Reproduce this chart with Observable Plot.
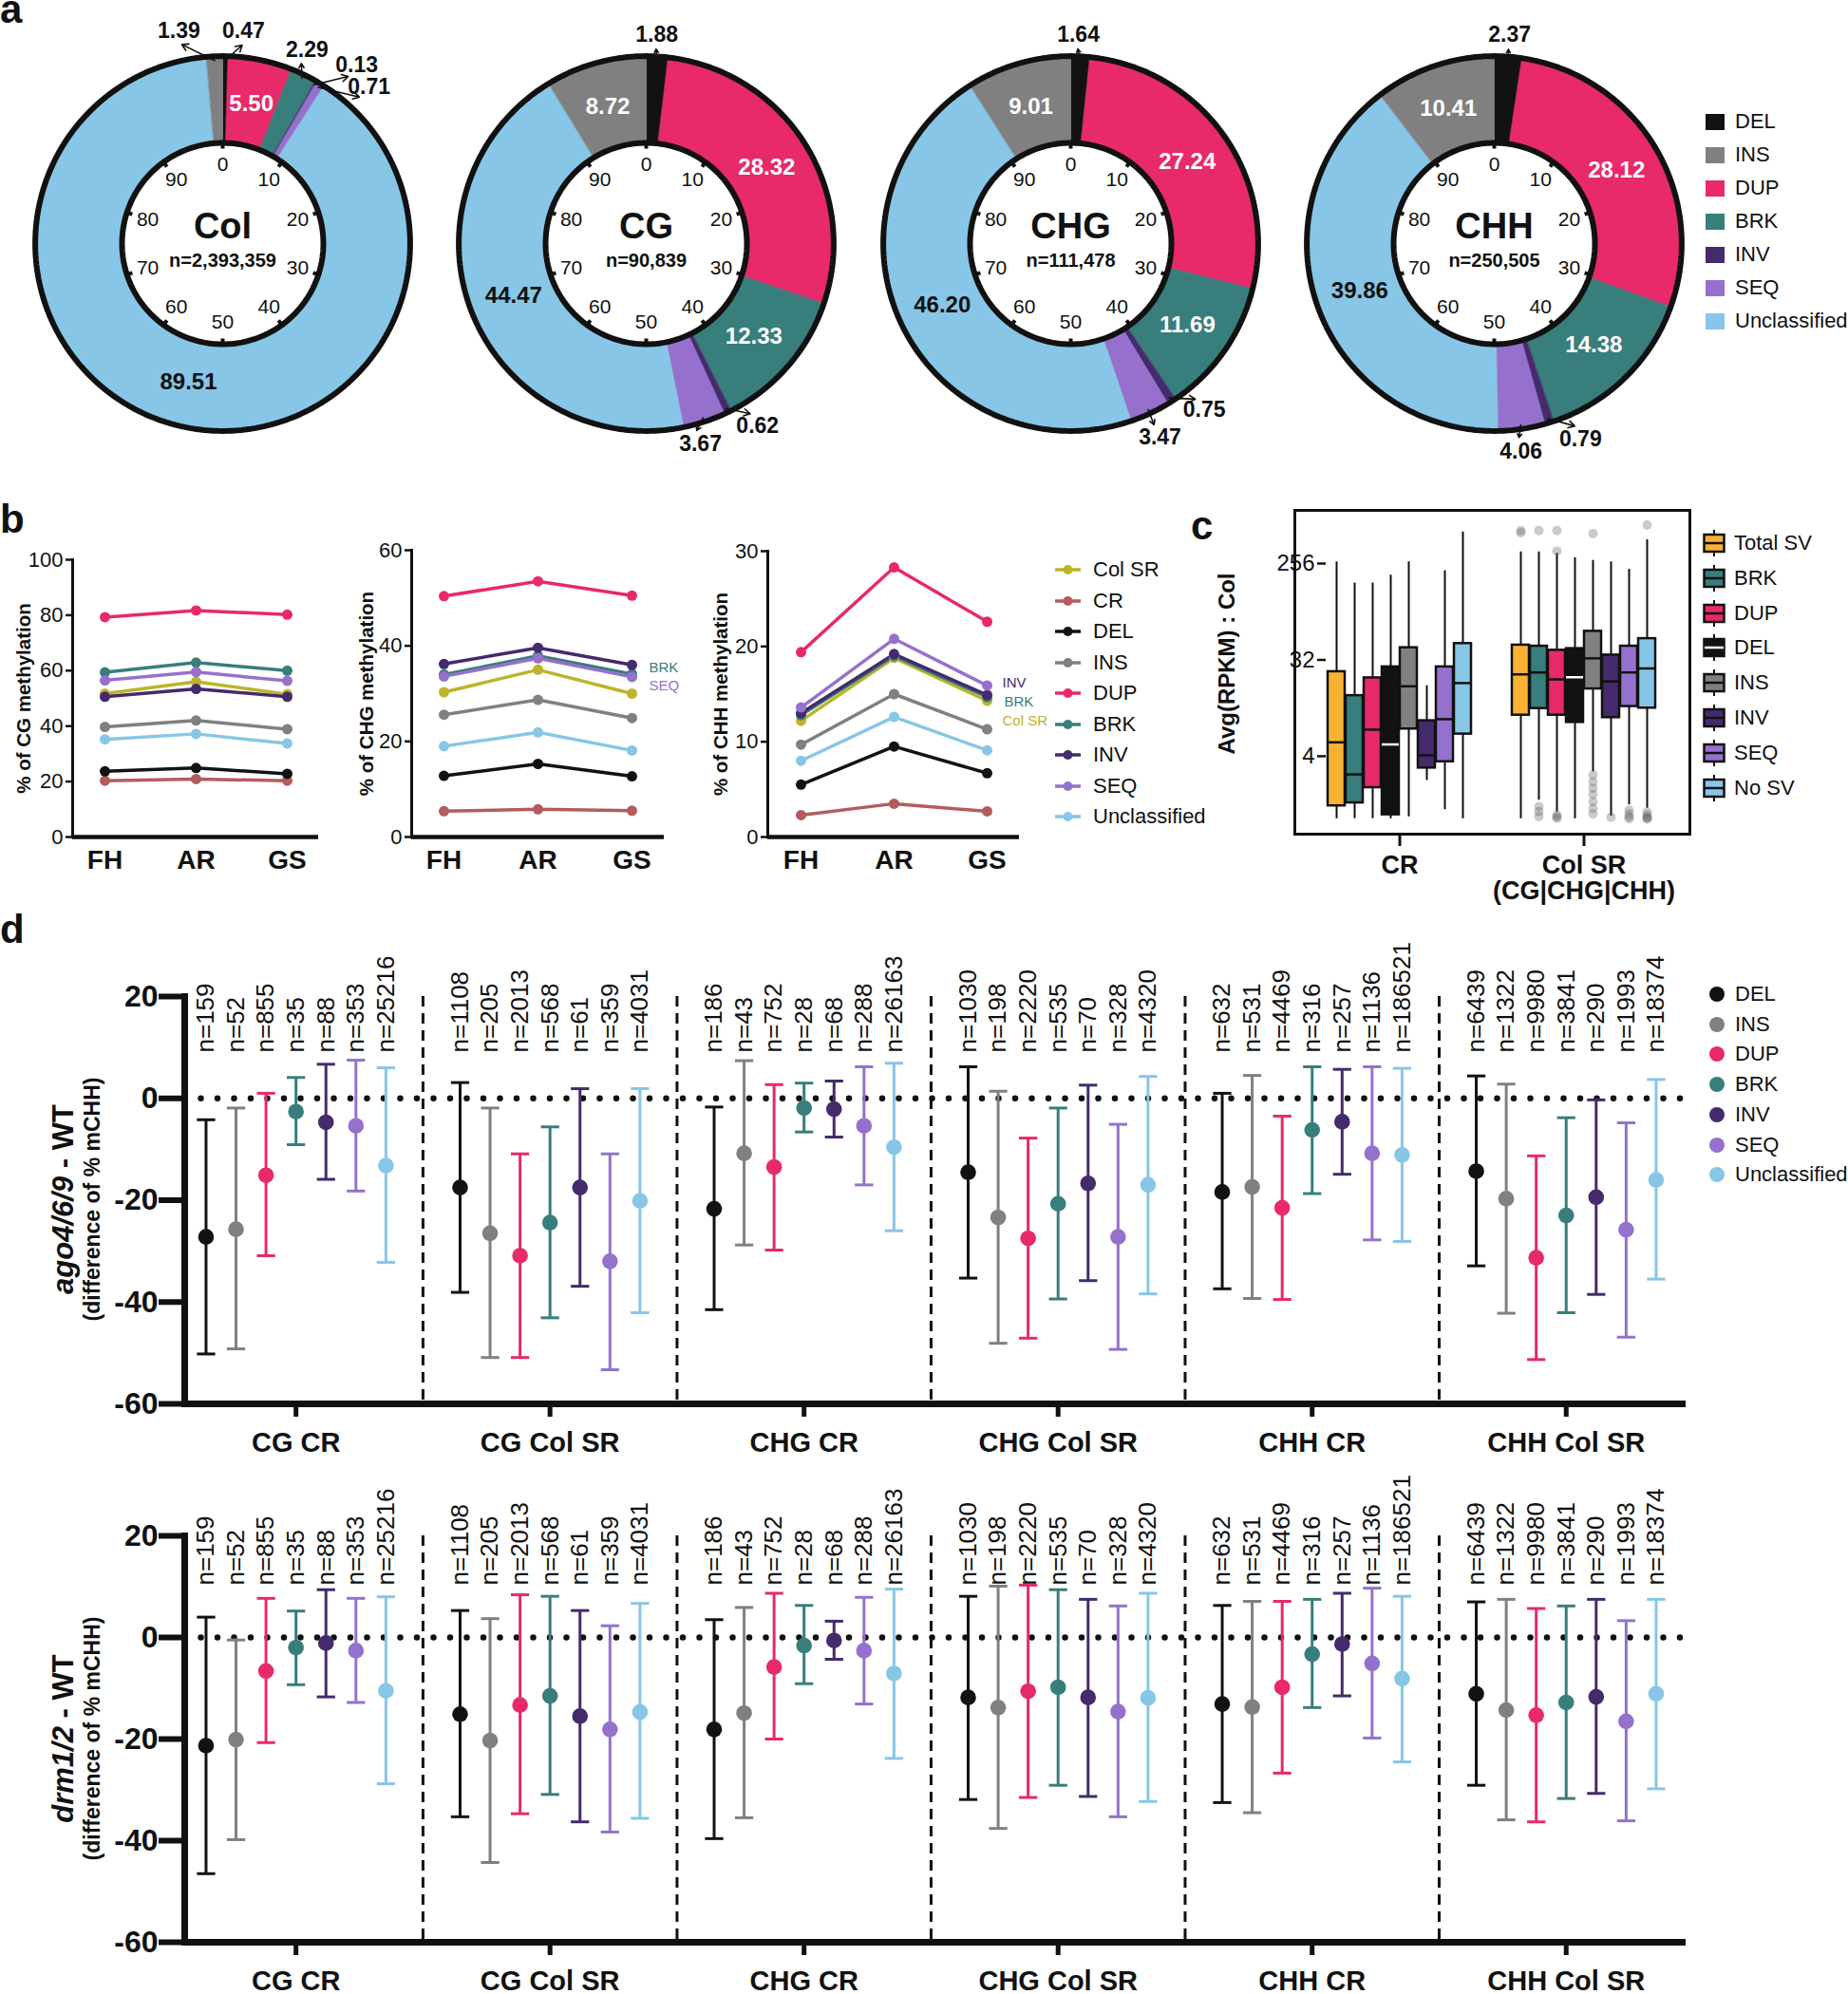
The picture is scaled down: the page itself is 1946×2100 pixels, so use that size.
<!DOCTYPE html>
<html><head><meta charset="utf-8">
<script src="https://cdn.jsdelivr.net/npm/d3@7"></script>
<script src="https://cdn.jsdelivr.net/npm/@observablehq/plot@0.6"></script>
<style>
html,body{margin:0;padding:0;background:#fff;}
#fig{position:relative;width:1946px;height:2100px;overflow:hidden;font-family:'Liberation Sans',Arial,sans-serif;color:#111;background:#fff;}
#fig svg{position:absolute;}
.t{position:absolute;white-space:nowrap;line-height:1;}
</style></head><body><div id="fig"></div>
<script>
// ---------------- DATA ----------------
const svTypes = ["DEL","INS","DUP","BRK","INV","SEQ","Unclassified"];
// panel a (donuts), values in clockwise order below
const donutOrder = ["DEL","DUP","BRK","INV","SEQ","Unclassified","INS"];
const donutNames = ["Col","CG","CHG","CHH"];
const donutN = ["n=2,393,359","n=90,839","n=111,478","n=250,505"];
const donutCol = [0.47, 5.50, 2.29, 0.13, 0.71, 89.51, 1.39];
const donutCG  = [1.88, 28.32, 12.33, 0.62, 3.67, 44.47, 8.72];
const donutCHG = [1.64, 27.24, 11.69, 0.75, 3.47, 46.20, 9.01];
const donutCHH = [2.37, 28.12, 14.38, 0.79, 4.06, 39.86, 10.41];
const dialTicks = [0,10,20,30,40,50,60,70,80,90];

// panel b
const bSeries = ["Col SR","CR","DEL","INS","DUP","BRK","INV","SEQ","Unclassified"];
const bSites = ["FH","AR","GS"];
const bCG = [[51.7,56.0,51.5],[20.3,20.9,20.3],[23.7,24.9,22.8],[39.7,42.0,38.9],[79.3,81.7,80.2],[59.4,62.9,60.0],[50.6,53.4,50.6],[56.5,59.5,56.3],[35.2,37.2,33.7]];
const bCHG = [[30.3,35.0,30.0],[5.4,5.8,5.5],[12.8,15.3,12.7],[25.6,28.7,24.9],[50.4,53.5,50.5],[34.0,37.9,34.1],[36.2,39.6,36.0],[33.6,37.4,33.5],[19.0,21.9,18.1]];
const bCHH = [[12.2,18.8,14.3],[2.3,3.5,2.7],[5.5,9.5,6.7],[9.7,15.0,11.3],[19.4,28.3,22.6],[12.8,19.0,14.7],[13.0,19.2,14.9],[13.6,20.8,15.9],[8.0,12.6,9.1]];
const bYTicksCG = [0,20,40,60,80,100];
const bYTicksCHG = [0,20,40,60];
const bYTicksCHH = [0,10,20,30];

// panel c
const boxGroups = ["CR","Col SR"];
const boxTypes = ["Total SV","BRK","DUP","DEL","INS","INV","SEQ","No SV"];
const boxLowCR  = [1.04,1.04,1.04,1.04,1.08,2.37,1.26,1.04];
const boxQ1CR   = [1.37,1.46,2.03,1.13,7.2,3.1,3.55,6.45];
const boxMedCR  = [5.4,2.7,7.1,5.16,18.1,4.08,8.9,19.4];
const boxQ3CR   = [24.8,14.8,21.7,27.5,41.6,8.6,27.5,45.5];
const boxHighCR = [265,168,168,199,265,18.3,219,506];
const boxLowSR  = [1.04,1.55,1.2,1.04,2.85,1.1,1.4,1.3];
const boxQ1SR   = [9.7,11.2,9.7,8.3,17.1,9.2,11.7,11.3];
const boxMedSR  = [23.4,24.4,21,22,33.1,20.1,24.4,26.6];
const boxQ3SR   = [44,43,39.4,40.8,59.3,35.5,43,50.6];
const boxHighSR = [329,329,320,290,274,265,226,427];
const outlierTypeSR = ["Total SV","Total SV","BRK","BRK","BRK","BRK","DUP","DUP","DUP","DUP","DUP","INS","INS","INS","INS","INS","INS","INS","INS","INV","SEQ","SEQ","SEQ","SEQ","No SV","No SV","No SV","No SV","No SV","No SV"];
const outlierValSR  = [523,498,523,1.35,1.21,1.09,523,335,1.12,1.08,1.05,488,2.66,2.3,2.0,1.75,1.5,1.3,1.15,1.07,1.25,1.15,1.08,1.04,588,1.2,1.12,1.07,1.05,1.04];
const boxYTicks = [4,32,256];

// panel d
const dGroups = ["CG CR","CG Col SR","CHG CR","CHG Col SR","CHH CR","CHH Col SR"];
const dN = [[159,52,855,35,88,353,25216],[1108,205,2013,568,61,359,4031],[186,43,752,28,68,288,26163],[1030,198,2220,535,70,328,4320],[632,531,4469,316,257,1136,186521],[6439,1322,9980,3841,290,1993,18374]];
const agoMean = [[-27.2,-25.7,-15.1,-2.6,-4.7,-5.4,-13.2],[-17.5,-26.5,-30.9,-24.4,-17.5,-32.0,-20.1],[-21.7,-10.8,-13.5,-1.9,-2.1,-5.4,-9.6],[-14.5,-23.4,-27.5,-20.7,-16.7,-27.2,-17.0],[-18.4,-17.4,-21.5,-6.2,-4.6,-10.8,-11.1],[-14.3,-19.7,-31.3,-23.0,-19.4,-25.8,-16.0]];
const agoLow = [[-50.2,-49.2,-30.9,-9.1,-15.9,-18.2,-32.2],[-38.1,-50.9,-50.9,-43.1,-36.9,-53.3,-42.1],[-41.5,-28.8,-29.8,-6.6,-7.6,-17.0,-26.0],[-35.3,-48.1,-47.1,-39.4,-35.8,-49.3,-38.4],[-37.4,-39.3,-39.5,-18.7,-14.9,-27.8,-28.1],[-32.9,-42.2,-51.3,-42.1,-38.5,-46.9,-35.5]];
const agoHigh = [[-4.2,-1.9,1.0,4.1,6.7,7.5,6.0],[3.1,-1.9,-10.9,-5.6,1.9,-10.9,1.9],[-1.7,7.4,2.7,3.0,3.4,6.2,6.9],[6.2,1.4,-7.8,-1.9,2.6,-5.1,4.3],[1.0,4.5,-3.5,6.2,5.7,6.2,5.9],[4.4,2.8,-11.3,-3.8,-0.3,-4.8,3.7]];
const drmMean = [[-21.3,-20.1,-6.6,-2.0,-1.1,-2.6,-10.5],[-15.1,-20.3,-13.3,-11.5,-15.5,-18.1,-14.7],[-18.1,-14.9,-5.8,-1.6,-0.6,-2.6,-7.1],[-11.8,-13.8,-10.6,-9.8,-11.8,-14.6,-11.9],[-13.1,-13.7,-9.8,-3.3,-1.3,-5.1,-8.1],[-11.1,-14.3,-15.3,-12.8,-11.7,-16.5,-11.1]];
const drmLow = [[-46.5,-39.8,-20.7,-9.3,-11.7,-12.8,-28.8],[-35.3,-44.3,-34.7,-30.9,-36.3,-38.3,-35.6],[-39.6,-35.5,-20.0,-9.1,-4.3,-13.1,-23.8],[-31.9,-37.6,-31.5,-29.1,-31.3,-35.3,-32.3],[-32.5,-34.5,-26.7,-13.8,-11.5,-19.8,-24.5],[-29.1,-35.9,-36.3,-31.7,-30.7,-36.1,-29.8]];
const drmHigh = [[4.0,-0.5,7.7,5.2,9.4,7.7,8.0],[5.3,3.7,8.4,8.1,5.3,2.3,6.7],[3.5,5.9,8.7,6.3,3.2,7.9,9.5],[8.1,10.1,10.3,9.4,7.5,6.2,8.7],[6.3,7.1,7.1,7.5,8.7,9.7,8.1],[7.0,7.5,5.7,6.2,7.5,3.3,7.5]];
const dYTicks = [20,0,-20,-40,-60];

// ---------------- STYLE / LAYOUT ----------------
const colors = {DEL:"#121212", INS:"#808080", DUP:"#E8296A", BRK:"#377E7C", INV:"#452A6C", SEQ:"#9571CD", Unclassified:"#87C6E6", "Col SR":"#BDB42B", CR:"#B35C5D", "Total SV":"#F8B233", "No SV":"#87C6E6"};
const FONT = "'Liberation Sans', Arial, sans-serif";
const baseStyle = {background:"transparent", fontFamily: FONT, fontSize:"22px", color:"#111", overflow:"visible"};
const fig = document.getElementById("fig");
function put(el, left, top){ el.style.left = left+"px"; el.style.top = top+"px"; fig.appendChild(el); return el; }
function txt(s, left, top, css){ const d=document.createElement("div"); d.className="t"; d.textContent=s; d.style.cssText += css||""; d.style.left=left+"px"; d.style.top=top+"px"; fig.appendChild(d); return d; }
function svgIcon(inner, left, top, w, h){ const d=document.createElement("div"); d.className="t"; d.style.left=left+"px"; d.style.top=top+"px"; d.innerHTML=`<svg width="${w}" height="${h}" style="position:static">${inner}</svg>`; fig.appendChild(d); return d; }

// panel letters
txt("a", 0, -11, "font-size:42px;font-weight:bold;");
txt("b", 0, 526, "font-size:42px;font-weight:bold;");
txt("c", 1254, 533, "font-size:42px;font-weight:bold;");
txt("d", 0, 958, "font-size:42px;font-weight:bold;");

// ---------------- PANEL A ----------------
const RO = 0.975, RI = 0.53;
const donutCenters = [234, 680, 1127, 1573];
const calloutLayout = [
  {DEL:[5.6,1.125], INS:[-11.6,1.145], BRK:[23.6,1.11], INV:[36.9,1.175], SEQ:[43,1.13]},
  {DEL:[2.9,1.1], INV:[148.6,1.125], SEQ:[164.9,1.095]},
  {DEL:[2.1,1.1], INV:[141.3,1.125], SEQ:[155.3,1.125]},
  {DEL:[4.2,1.1], INV:[156.2,1.125], SEQ:[172.7,1.105]}
];
function polar(pct, r){ const t = pct/100*2*Math.PI; return {x: r*Math.sin(t), y: r*Math.cos(t)}; }
function arcPts(a0, a1, r){ const n = Math.max(2, Math.ceil(Math.abs(a1-a0)/0.4)+1); return d3.range(n).map(i => polar(a0+(a1-a0)*i/(n-1), r)); }
const donutVals = [donutCol, donutCG, donutCHG, donutCHH];
donutVals.forEach((vals, di) => {
  let cum = 0;
  const slices = donutOrder.map((t,k) => { const s = {type:t, value:vals[k], a0:cum, a1:cum+vals[k]}; cum += vals[k]; s.mid=(s.a0+s.a1)/2; return s; });
  const marks = [];
  for (const s of slices) {
    const pts = [...arcPts(s.a0, s.a1, RO), ...arcPts(s.a1, s.a0, RI)];
    marks.push(Plot.line(pts, {x:"x", y:"y", fill: colors[s.type], stroke: colors[s.type], strokeWidth: 0.6, curve:"linear-closed"}));
  }
  marks.push(Plot.line(arcPts(0,100,RO+0.012), {x:"x", y:"y", stroke:"#111", strokeWidth:6, curve:"linear-closed"}));
  marks.push(Plot.line(arcPts(0,100,RI), {x:"x", y:"y", stroke:"#111", strokeWidth:6, curve:"linear-closed"}));
  const tickLinks = dialTicks.map(p => { const a = polar(p, RI), b = polar(p, RI-0.03); return {x1:a.x, y1:a.y, x2:b.x, y2:b.y}; });
  marks.push(Plot.link(tickLinks, {x1:"x1", y1:"y1", x2:"x2", y2:"y2", stroke:"#111", strokeWidth:4}));
  marks.push(Plot.text(dialTicks.map(p => ({...polar(p, 0.415), label: String(p)})), {x:"x", y:"y", text:"label", fontSize:21, fill:"#111"}));
  marks.push(Plot.text([donutNames[di]], {frameAnchor:"middle", dy:-18, fontSize:38, fontWeight:"bold", fill:"#111"}));
  marks.push(Plot.text([donutN[di]], {frameAnchor:"middle", dy:18, fontSize:20, fontWeight:"bold", fill:"#111"}));
  const inside = slices.filter(s => s.value >= 5).map(s => ({...polar(s.mid, 0.75), label: s.value.toFixed(2), type: s.type}));
  marks.push(Plot.text(inside.filter(d => d.type !== "Unclassified"), {x:"x", y:"y", text:"label", fill:"#fff", fontSize:24, fontWeight:"bold"}));
  marks.push(Plot.text(inside.filter(d => d.type === "Unclassified"), {x:"x", y:"y", text:"label", fill:"#111", fontSize:24, fontWeight:"bold"}));
  const lay = calloutLayout[di];
  const outside = slices.filter(s => s.value < 5).map(s => {
    const [deg, r] = lay[s.type];
    const lp = polar(deg/3.6, r), st = polar(s.mid, 0.965), en = polar(deg/3.6, r-0.075);
    return {x:lp.x, y:lp.y, label: s.value.toFixed(2), x1:st.x, y1:st.y, x2:en.x, y2:en.y};
  });
  marks.push(Plot.arrow(outside, {x1:"x1", y1:"y1", x2:"x2", y2:"y2", stroke:"#111", strokeWidth:1.6, headLength:7}));
  marks.push(Plot.text(outside, {x:"x", y:"y", text:"label", fill:"#111", fontSize:23, fontWeight:"bold"}));
  const svg = Plot.plot({width:500, height:500, margin:0, x:{domain:[-1.25,1.25], axis:null}, y:{domain:[-1.25,1.25], axis:null}, style: baseStyle, marks});
  put(svg, donutCenters[di]-250, 256-250);
});
// legend a
svTypes.forEach((t,i) => {
  const cy = 128 + 35*i;
  svgIcon(`<rect x="0" y="0" width="20" height="17" fill="${colors[t]}"/>`, 1796, cy-8, 20, 17);
  txt(t, 1827, cy-11, "font-size:22px;");
});

// ---------------- PANEL B ----------------
function lineChart(vals, yTicks, title, cfg) {
  const data = bSeries.flatMap((s,si) => bSites.map((site,j) => ({series:s, site, value: vals[si][j]})));
  const marks = [
    Plot.axisY({ticks: yTicks, tickSize: 7, tickPadding: 3, strokeWidth: 2.5, fontSize: 22, label: null}),
    Plot.axisX({tickSize: 0, tickPadding: 14, fontSize: 28, fontWeight: "bold", label: null}),
    Plot.frame({anchor: "left", strokeWidth: 3}),
    Plot.ruleY([0], {strokeWidth: 4.5}),
    Plot.line(data, {x:"site", y:"value", z:"series", stroke:"series", strokeWidth: 3.5}),
    Plot.dot(data, {x:"site", y:"value", fill:"series", r: 5.5}),
    Plot.text([title], {frameAnchor:"left", dx: cfg.titleDx, rotate: -90, textAnchor:"middle", lineAnchor:"middle", fontSize: 20.5, fontWeight: "bold", fill:"#111"})
  ];
  for (const a of (cfg.annot || [])) {
    const si = bSeries.indexOf(a.series);
    const d = {site: "GS", value: vals[si][2], label: a.series};
    marks.push(Plot.text([d], {x:"site", y:"value", text:"label", dx: a.dx, dy: a.dy, textAnchor:"start", fontSize: 15, fill: colors[a.series]}));
  }
  const svg = Plot.plot({
    width: cfg.width, height: 400, marginLeft: cfg.mL, marginRight: cfg.mR, marginTop: cfg.mT, marginBottom: 400 - (881 - 540),
    x: {type: "point", domain: bSites, padding: 0.34},
    y: {domain: [0, yTicks[yTicks.length-1]]},
    color: {domain: bSeries, range: bSeries.map(s => colors[s])},
    style: baseStyle, marks
  });
  put(svg, cfg.left, 540);
}
lineChart(bCG, bYTicksCG, "% of CG methylation", {left:0, width:345, mL:76, mR:10, mT:49, titleDx:-51});
lineChart(bCHG, bYTicksCHG, "% of CHG methylation", {left:360, width:364, mL:73, mR:25, mT:39, titleDx:-47,
  annot:[{series:"BRK", dx:18, dy:-7},{series:"SEQ", dx:18, dy:9}]});
lineChart(bCHH, bYTicksCHH, "% of CHH methylation", {left:740, width:363, mL:68, mR:30, mT:40, titleDx:-49,
  annot:[{series:"INV", dx:16, dy:-13},{series:"BRK", dx:18, dy:5},{series:"Col SR", dx:16, dy:21}]});
// legend b
bSeries.forEach((s,i) => {
  const cy = 600 + 32.5*i;
  svgIcon(`<line x1="0" y1="8" x2="27" y2="8" stroke="${colors[s]}" stroke-width="3.5"/><circle cx="13.5" cy="8" r="5" fill="${colors[s]}"/>`, 1111, cy-8, 28, 16);
  txt(s, 1151, cy-11, "font-size:22px;");
});

// ---------------- PANEL C ----------------
{
  const boxes = [];
  boxTypes.forEach((t,i) => {
    boxes.push({group:"CR", type:t, low:boxLowCR[i], q1:boxQ1CR[i], med:boxMedCR[i], q3:boxQ3CR[i], high:boxHighCR[i]});
    boxes.push({group:"Col SR", type:t, low:boxLowSR[i], q1:boxQ1SR[i], med:boxMedSR[i], q3:boxQ3SR[i], high:boxHighSR[i]});
  });
  const outliers = outlierTypeSR.map((t,i) => ({group:"Col SR", type:t, value: outlierValSR[i]}));
  const fxLabel = {"CR":"CR", "Col SR":"Col SR\n(CG|CHG|CHH)"};
  const svg = Plot.plot({
    width: 539, height: 450, marginLeft: 113, marginTop: 17, marginRight: 10, marginBottom: 450 - (878 - 520),
    fx: {domain: boxGroups, paddingInner: 0.2, paddingOuter: 0.17, axis: null},
    x: {domain: boxTypes, padding: 0.07, axis: null},
    y: {type: "log", base: 2, domain: [0.744, 807], axis: null},
    color: {domain: boxTypes, range: boxTypes.map(t => colors[t])},
    style: baseStyle,
    marks: [
      Plot.axisY({ticks: boxYTicks, tickFormat: d => String(d), tickSize: 9, tickPadding: 3, strokeWidth: 2.5, fontSize: 24, label: null}),
      Plot.axisFx({anchor: "bottom", tickSize: 13, tickPadding: 9, strokeWidth: 3, fontSize: 27, fontWeight: "bold", tickFormat: g => fxLabel[g], label: null}),
      Plot.ruleX(boxes, {fx:"group", x:"type", y1:"low", y2:"high", stroke:"#111", strokeWidth: 2}),
      Plot.barY(boxes, {fx:"group", x:"type", y1:"q1", y2:"q3", fill:"type", stroke:"#111", strokeWidth: 2.5}),
      Plot.tickY(boxes.filter(b => b.type !== "DEL"), {fx:"group", x:"type", y:"med", stroke:"#111", strokeWidth: 2.5}),
      Plot.tickY(boxes.filter(b => b.type === "DEL"), {fx:"group", x:"type", y:"med", stroke:"#fff", strokeWidth: 2.5}),
      Plot.dot(outliers, {fx:"group", x:"type", y:"value", fill:"#666", fillOpacity: 0.35, r: 5})
    ]
  });
  put(svg, 1250, 520);
  const box = document.createElement("div");
  box.style.cssText = "position:absolute;left:1362px;top:536px;width:419px;height:344px;border:3px solid #111;box-sizing:border-box;";
  fig.appendChild(box);
  txt("Avg(RPKM) : Col", 1292, 699, "font-size:24px;font-weight:bold;transform:translate(-50%,-50%) rotate(-90deg);");
  boxTypes.forEach((t,i) => {
    const cy = 572 + 36.8*i;
    const med = t === "DEL" ? "#fff" : "#111";
    svgIcon(`<line x1="12" y1="0" x2="12" y2="28" stroke="#111" stroke-width="2"/><rect x="1.5" y="5" width="21" height="18" fill="${colors[t]}" stroke="#111" stroke-width="2.5"/><line x1="2" y1="14" x2="22" y2="14" stroke="${med}" stroke-width="2.5"/>`, 1793, cy-14, 24, 28);
    txt(t, 1826, cy-11, "font-size:22px;");
  });
}

// ---------------- PANEL D ----------------
const D_STEP = 0.118, CAP = 0.036;
function errChart(meanArr, lowArr, highArr, cfg) {
  const data = dGroups.flatMap((g,gi) => svTypes.map((t,ti) => ({g, t, x: gi + (ti-3)*D_STEP, mean: meanArr[gi][ti], low: lowArr[gi][ti], high: highArr[gi][ti], n: "n=" + dN[gi][ti]})));
  const seps = d3.range(1, dGroups.length).map(i => i - 0.5);
  const svg = Plot.plot({
    width: 1800, height: cfg.height, marginLeft: 194, marginRight: 29, marginTop: cfg.mT, marginBottom: cfg.mB,
    x: {domain: [-0.438, 5.457], axis: null},
    y: {domain: [-60, 20], axis: null},
    color: {domain: svTypes, range: svTypes.map(t => colors[t])},
    style: baseStyle,
    marks: [
      Plot.ruleY([0], {stroke:"#111", strokeWidth: 6.5, strokeDasharray: "0 17.5", strokeLinecap: "round"}),
      Plot.ruleX(seps, {stroke:"#111", strokeWidth: 3, strokeDasharray: "11 7"}),
      Plot.ruleX(data, {x:"x", y1:"low", y2:"high", stroke:"t", strokeWidth: 3}),
      Plot.link(data, {x1: d => d.x - CAP, x2: d => d.x + CAP, y1:"low", y2:"low", stroke:"t", strokeWidth: 3}),
      Plot.link(data, {x1: d => d.x - CAP, x2: d => d.x + CAP, y1:"high", y2:"high", stroke:"t", strokeWidth: 3}),
      Plot.dot(data, {x:"x", y:"mean", fill:"t", r: 8.3}),
      Plot.text(data, {x:"x", frameAnchor:"top", dy: cfg.nDy, rotate: -90, textAnchor:"start", lineAnchor:"middle", text:"n", fontSize: 26, fill:"#111"}),
      Plot.axisY({ticks: dYTicks, tickFormat: d => String(d), tickSize: 27, tickPadding: 1, strokeWidth: 6, fontSize: 32, fontWeight: "bold", label: null}),
      Plot.axisX({ticks: d3.range(dGroups.length), tickFormat: i => dGroups[i], tickSize: 14, tickPadding: 16, strokeWidth: 5, fontSize: 29, fontWeight: "bold", label: null}),
      Plot.frame({anchor: "left", strokeWidth: 7}),
      Plot.frame({anchor: "bottom", strokeWidth: 7})
    ]
  });
  put(svg, 0, cfg.top);
}
errChart(agoMean, agoLow, agoHigh, {top: 980, height: 565, mT: 69, mB: 565 - (1478 - 980), nDy: 59});
errChart(drmMean, drmLow, drmHigh, {top: 1545, height: 555, mT: 72, mB: 555 - (2045 - 1545), nDy: 52});
// y titles for d
function dTitle(ital, rest, cy) {
  const d = document.createElement("div"); d.className = "t";
  d.style.cssText += `left:66px;top:${cy}px;font-size:31px;font-weight:bold;transform:translate(-50%,-50%) rotate(-90deg);`;
  const i = document.createElement("i"); i.textContent = ital; d.appendChild(i); d.appendChild(document.createTextNode(rest));
  fig.appendChild(d);
  txt("(difference of % mCHH)", 97, cy, "font-size:23px;font-weight:bold;transform:translate(-50%,-50%) rotate(-90deg);");
}
dTitle("ago4/6/9", " - WT", 1263);
dTitle("drm1/2", " - WT", 1831);
svTypes.forEach((t,i) => {
  const cy = 1047 + 31.7*i;
  svgIcon(`<circle cx="8" cy="8" r="8" fill="${colors[t]}"/>`, 1800, cy-8, 16, 16);
  txt(t, 1827, cy-11, "font-size:22px;");
});
</script></body></html>
